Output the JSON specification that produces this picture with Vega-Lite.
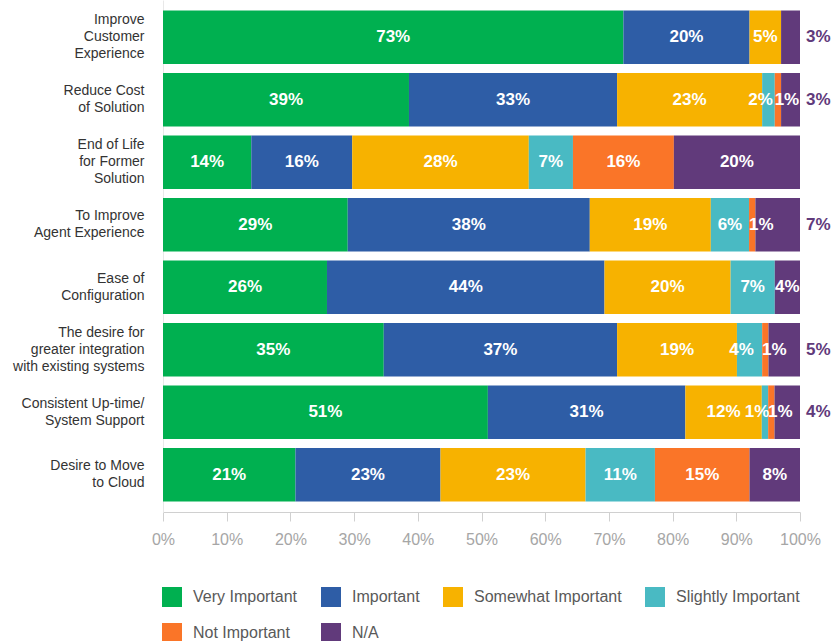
{
  "$schema": "https://vega.github.io/schema/vega-lite/v6.json",
  "width": 637,
  "height": 512,
  "autosize": "none",
  "padding": {"left": 163, "top": 0, "right": 34, "bottom": 129},
  "background": "white",
  "config": {"view": {"stroke": null}, "font": "Liberation Sans"},
  "data": {
    "values": [
      {"category": "Improve|Customer|Experience", "level": "Very Important", "value": 73},
      {"category": "Improve|Customer|Experience", "level": "Important", "value": 20},
      {"category": "Improve|Customer|Experience", "level": "Somewhat Important", "value": 5},
      {"category": "Improve|Customer|Experience", "level": "N/A", "value": 3},
      {"category": "Reduce Cost|of Solution", "level": "Very Important", "value": 39},
      {"category": "Reduce Cost|of Solution", "level": "Important", "value": 33},
      {"category": "Reduce Cost|of Solution", "level": "Somewhat Important", "value": 23},
      {"category": "Reduce Cost|of Solution", "level": "Slightly Important", "value": 2},
      {"category": "Reduce Cost|of Solution", "level": "Not Important", "value": 1},
      {"category": "Reduce Cost|of Solution", "level": "N/A", "value": 3},
      {"category": "End of Life|for Former|Solution", "level": "Very Important", "value": 14},
      {"category": "End of Life|for Former|Solution", "level": "Important", "value": 16},
      {"category": "End of Life|for Former|Solution", "level": "Somewhat Important", "value": 28},
      {"category": "End of Life|for Former|Solution", "level": "Slightly Important", "value": 7},
      {"category": "End of Life|for Former|Solution", "level": "Not Important", "value": 16},
      {"category": "End of Life|for Former|Solution", "level": "N/A", "value": 20},
      {"category": "To Improve|Agent Experience", "level": "Very Important", "value": 29},
      {"category": "To Improve|Agent Experience", "level": "Important", "value": 38},
      {"category": "To Improve|Agent Experience", "level": "Somewhat Important", "value": 19},
      {"category": "To Improve|Agent Experience", "level": "Slightly Important", "value": 6},
      {"category": "To Improve|Agent Experience", "level": "Not Important", "value": 1},
      {"category": "To Improve|Agent Experience", "level": "N/A", "value": 7},
      {"category": "Ease of|Configuration", "level": "Very Important", "value": 26},
      {"category": "Ease of|Configuration", "level": "Important", "value": 44},
      {"category": "Ease of|Configuration", "level": "Somewhat Important", "value": 20},
      {"category": "Ease of|Configuration", "level": "Slightly Important", "value": 7},
      {"category": "Ease of|Configuration", "level": "N/A", "value": 4},
      {"category": "The desire for|greater integration|with existing systems", "level": "Very Important", "value": 35},
      {"category": "The desire for|greater integration|with existing systems", "level": "Important", "value": 37},
      {"category": "The desire for|greater integration|with existing systems", "level": "Somewhat Important", "value": 19},
      {"category": "The desire for|greater integration|with existing systems", "level": "Slightly Important", "value": 4},
      {"category": "The desire for|greater integration|with existing systems", "level": "Not Important", "value": 1},
      {"category": "The desire for|greater integration|with existing systems", "level": "N/A", "value": 5},
      {"category": "Consistent Up-time/|System Support", "level": "Very Important", "value": 51},
      {"category": "Consistent Up-time/|System Support", "level": "Important", "value": 31},
      {"category": "Consistent Up-time/|System Support", "level": "Somewhat Important", "value": 12},
      {"category": "Consistent Up-time/|System Support", "level": "Slightly Important", "value": 1},
      {"category": "Consistent Up-time/|System Support", "level": "Not Important", "value": 1},
      {"category": "Consistent Up-time/|System Support", "level": "N/A", "value": 4},
      {"category": "Desire to Move|to Cloud", "level": "Very Important", "value": 21},
      {"category": "Desire to Move|to Cloud", "level": "Important", "value": 23},
      {"category": "Desire to Move|to Cloud", "level": "Somewhat Important", "value": 23},
      {"category": "Desire to Move|to Cloud", "level": "Slightly Important", "value": 11},
      {"category": "Desire to Move|to Cloud", "level": "Not Important", "value": 15},
      {"category": "Desire to Move|to Cloud", "level": "N/A", "value": 8}
    ]
  },
  "transform": [
    {"calculate": "indexof(['Very Important','Important','Somewhat Important','Slightly Important','Not Important','N/A'], datum.level)", "as": "ord"},
    {"stack": "value", "groupby": ["category"], "sort": [{"field": "ord", "order": "ascending"}], "offset": "normalize", "as": ["x0", "x1"]},
    {"calculate": "(datum.x0 + datum.x1) / 2", "as": "xm"},
    {"calculate": "datum.value + '%'", "as": "label"}
  ],
  "encoding": {
    "y": {
      "field": "category",
      "type": "nominal",
      "sort": null,
      "scale": {"paddingInner": 0.144, "paddingOuter": 0.17},
      "axis": {
        "title": null,
        "labelExpr": "split(datum.label, '|')",
        "labelFontSize": 14,
        "labelColor": "#333333",
        "labelLineHeight": 17,
        "labelOffset": {"condition": {"test": "length(split(datum.value, '|')) >= 3", "value": -17}, "value": -8.5},
        "ticks": false,
        "domain": true,
        "domainColor": "#e8e8e8",
        "labelPadding": 19,
        "labelLimit": 250
      }
    }
  },
  "layer": [
    {
      "mark": {"type": "bar"},
      "encoding": {
        "x": {
          "field": "x0",
          "type": "quantitative",
          "scale": {"domain": [0, 1], "nice": false},
          "axis": {
            "title": null,
            "format": ".0%",
            "values": [0, 0.1, 0.2, 0.3, 0.4, 0.5, 0.6, 0.7, 0.8, 0.9, 1],
            "labelFontSize": 16,
            "labelColor": "#a6a6a6",
            "domainColor": "#d0d0d0",
            "tickColor": "#d0d0d0",
            "tickSize": 9,
            "labelPadding": 10,
            "grid": false,
            "labelFlush": false,
            "labelOverlap": false
          }
        },
        "x2": {"field": "x1"},
        "color": {
          "field": "level",
          "type": "nominal",
          "scale": {
            "domain": ["Very Important", "Important", "Somewhat Important", "Slightly Important", "Not Important", "N/A"],
            "range": ["#00B050", "#2E5DA6", "#F7B200", "#49BAC3", "#FA7528", "#613A7B"]
          },
          "legend": {
            "title": null,
            "orient": "none",
            "legendX": -1,
            "legendY": 587,
            "direction": "horizontal",
            "columns": 4,
            "symbolType": "square",
            "symbolSize": 400,
            "symbolStrokeWidth": 0,
            "labelFontSize": 16,
            "labelColor": "#595959",
            "labelOffset": 11,
            "labelLimit": 300,
            "columnPadding": 23,
            "rowPadding": 16,
            "padding": 0
          }
        }
      }
    },
    {
      "transform": [
        {"filter": "!(datum.level === 'N/A' && indexof(['Improve|Customer|Experience','Reduce Cost|of Solution','To Improve|Agent Experience','The desire for|greater integration|with existing systems','Consistent Up-time/|System Support'], datum.category) >= 0) && !(datum.level === 'Not Important' && datum.value <= 1) && !(datum.level === 'Slightly Important' && datum.value <= 4)"}
      ],
      "mark": {"type": "text", "color": "white", "fontWeight": "bold", "fontSize": 17},
      "encoding": {
        "x": {"field": "xm", "type": "quantitative"},
        "text": {"field": "label"}
      }
    },
    {
      "transform": [{"filter": "datum.level === 'Not Important' && datum.value <= 1"}],
      "mark": {"type": "text", "color": "white", "fontWeight": "bold", "fontSize": 17, "dx": 9},
      "encoding": {
        "x": {"field": "xm", "type": "quantitative"},
        "text": {"field": "label"}
      }
    },
    {
      "transform": [{"filter": "datum.level === 'Slightly Important' && datum.value <= 4"}],
      "mark": {"type": "text", "color": "white", "fontWeight": "bold", "fontSize": 17, "dx": -8},
      "encoding": {
        "x": {"field": "xm", "type": "quantitative"},
        "text": {"field": "label"}
      }
    },
    {
      "transform": [
        {"filter": "datum.level === 'N/A' && indexof(['Improve|Customer|Experience','Reduce Cost|of Solution','To Improve|Agent Experience','The desire for|greater integration|with existing systems','Consistent Up-time/|System Support'], datum.category) >= 0"}
      ],
      "mark": {"type": "text", "color": "#613A7B", "fontWeight": "bold", "fontSize": 17, "align": "left", "dx": 6},
      "encoding": {
        "x": {"datum": 1, "type": "quantitative"},
        "text": {"field": "label"}
      }
    }
  ]
}
